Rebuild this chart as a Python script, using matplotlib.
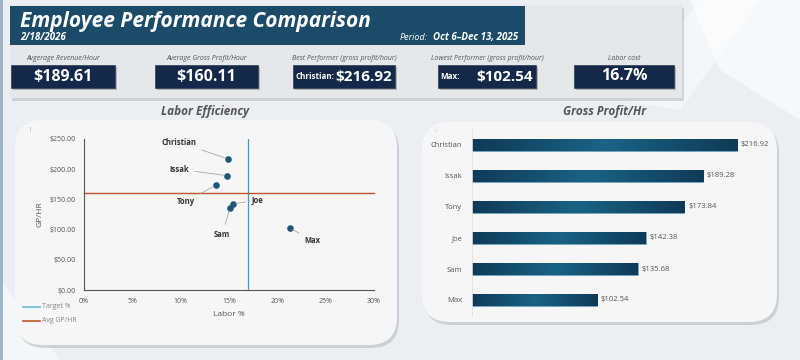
import matplotlib
matplotlib.use("Agg")
from matplotlib import pyplot as plt
from matplotlib.patches import FancyBboxPatch, Rectangle, Polygon
from matplotlib.colors import LinearSegmentedColormap
from matplotlib.ticker import FuncFormatter
import numpy as np

plt.rcParams['font.family'] = ['Open Sans', 'DejaVu Sans']

# data
names = ['Christian', 'Issak', 'Tony', 'Joe', 'Sam', 'Max']
gp_hr = [216.92, 189.28, 173.84, 142.38, 135.68, 102.54]
labor_pct = [14.9, 14.8, 13.7, 15.4, 15.1, 21.3]
target_pct = 17.0
avg_gp = 160.11

kpi_labels = ['Avgerage Revenue/Hour', 'Average Gross Profit/Hour',
              'Best Performer (gross profit/hour)', 'Lowest Performer (gross profit/hour)',
              'Labor cost']
kpi_prefix = ['', '', 'Christian:', 'Max:', '']
kpi_values = ['$189.61', '$160.11', '$216.92', '$102.54', '16.7%']

# label positions for the scatter (labor %, gp/hr, alignment)
label_pos = {
    'Christian': (11.6, 245, 'right'),
    'Issak': (10.9, 200, 'right'),
    'Tony': (11.5, 147, 'right'),
    'Joe': (17.3, 149, 'left'),
    'Sam': (14.3, 92, 'center'),
    'Max': (22.8, 82, 'left'),
}

W, H = 800, 360
fig = plt.figure(figsize=(8, 3.6), dpi=100)
fig.patch.set_facecolor('#eceef1')


def px_axes(x, y, w, h, **kw):
    return fig.add_axes([x / W, 1 - (y + h) / H, w / W, h / H], **kw)


bg = px_axes(0, 0, W, H)
bg.set_xlim(0, W)
bg.set_ylim(H, 0)
bg.axis('off')

# faint background shapes
bg.add_patch(Polygon([[690, 0], [800, 0], [800, 120], [720, 70]], color='white', alpha=0.6, lw=0))
bg.add_patch(Polygon([[620, 100], [700, 0], [760, 0], [680, 110]], color='white', alpha=0.5, lw=0))
bg.add_patch(Polygon([[0, 280], [60, 360], [0, 360]], color='white', alpha=0.5, lw=0))
bg.add_patch(Rectangle((0, 0), 3, H, color='#9fb4c8', lw=0))


def rbox(x, y, w, h, r, fc, shadow=True, z=1):
    if shadow:
        bg.add_patch(FancyBboxPatch((x + 2, y + 3), w, h, boxstyle=f"round,pad=0,rounding_size={r}",
                                    fc='#b8bcc2', ec='none', alpha=0.6, zorder=z))
    bg.add_patch(FancyBboxPatch((x, y), w, h, boxstyle=f"round,pad=0,rounding_size={r}",
                                fc=fc, ec='none', zorder=z + 0.1))


# header panel
rbox(10, 5, 672, 93, 0.1, '#e6e7e9')
bg.add_patch(Rectangle((10, 6), 515, 39, fc='#1b4b69', ec='none', zorder=2))
bg.text(20, 21, 'Employee Performance Comparison', color='white', fontsize=15,
        fontweight='bold', style='italic', va='center', zorder=3)
bg.text(20, 38, '2/18/2026', color='white', fontsize=7, fontweight='bold',
        style='italic', va='center', zorder=3)
bg.text(428, 37.5, 'Period:', color='white', fontsize=6.5, style='italic',
        va='center', ha='right', zorder=3)
bg.text(433, 37.5, 'Oct 6\u2013Dec 13, 2025', color='white', fontsize=7, fontweight='bold',
        style='italic', va='center', zorder=3)

box_x = [11, 155, 293, 438, 574]
box_w = [104, 103, 102, 98, 100]
for i in range(5):
    x, w = box_x[i], box_w[i]
    bg.text(x + w / 2, 59, kpi_labels[i], color='#555555', fontsize=5, style='italic',
            ha='center', va='center', zorder=3)
    bg.add_patch(Rectangle((x + 2, 67), w, 23, fc='#8d9196', ec='none', alpha=0.6, zorder=2))
    bg.add_patch(Rectangle((x, 65), w, 23, fc='#14284a', ec='#3b4a60', lw=0.6, zorder=2.1))
    if kpi_prefix[i]:
        bg.text(x + 2, 76.5, kpi_prefix[i], color='white', fontsize=5.8, fontweight='bold',
                va='center', ha='left', zorder=3)
        bg.text(x + w - 3, 76.5, kpi_values[i], color='white', fontsize=11, fontweight='bold',
                va='center', ha='right', zorder=3)
    else:
        bg.text(x + w / 2, 76.5, kpi_values[i], color='white', fontsize=11.5, fontweight='bold',
                va='center', ha='center', zorder=3)

# chart panels
rbox(15, 120, 382, 225, 28, '#f6f6f6')
rbox(422, 122, 355, 200, 28, '#f6f6f6')
bg.text(205, 112, 'Labor Efficiency', color='#555555', fontsize=8.5, fontweight='bold',
        style='italic', ha='center', va='center')
bg.text(605, 112, 'Gross Profit/Hr', color='#555555', fontsize=8.5, fontweight='bold',
        style='italic', ha='center', va='center')
bg.text(27, 131, '1', color='#bbbbbb', fontsize=5.5, va='center', zorder=3)
bg.text(434, 131, '2', color='#dddddd', fontsize=5.5, va='center', zorder=3)

# legend for the scatter
bg.plot([23, 40], [307, 307], color='#7cc4e8', lw=1.4, zorder=3)
bg.text(42, 307, 'Target %', color='#888888', fontsize=5, va='center', zorder=3)
bg.plot([23, 40], [321, 321], color='#c0552a', lw=1.2, zorder=3)
bg.text(42, 321, 'Avg GP/HR', color='#888888', fontsize=5, va='center', zorder=3)

# scatter
ax = px_axes(84, 139, 290, 151)
ax.set_facecolor('none')
ax.set_xlim(0, 30)
ax.set_ylim(0, 250)
ax.axvline(target_pct, color='#3d9bd0', lw=0.9, zorder=1)
ax.axhline(avg_gp, color='#c0552a', lw=1.0, zorder=1, clip_on=False)
ax.scatter(labor_pct, gp_hr, s=14, color='#1e5675', zorder=3)
for n, x, y in zip(names, labor_pct, gp_hr):
    tx, ty, ha = label_pos[n]
    ax.annotate(n, (x, y), xytext=(tx, ty), ha=ha, va='center', fontsize=5.5,
                fontweight='bold', color='#333333',
                arrowprops=dict(arrowstyle='-', color='#999999', lw=0.5, shrinkA=2, shrinkB=2))
ax.set_xticks(range(0, 31, 5))
ax.set_yticks(range(0, 251, 50))
ax.xaxis.set_major_formatter(FuncFormatter(lambda v, p: f'{v:.0f}%'))
ax.yaxis.set_major_formatter(FuncFormatter(lambda v, p: f'${v:.2f}'))
ax.tick_params(length=0, labelsize=5, colors='#555555', pad=6)
for s in ['top', 'right']:
    ax.spines[s].set_visible(False)
for s in ['left', 'bottom']:
    ax.spines[s].set_color('#555555')
    ax.spines[s].set_linewidth(0.8)
ax.set_xlabel('Labor %', fontsize=6, color='#555555', labelpad=4)
ax.set_ylabel('GP/HR', fontsize=6, color='#555555', labelpad=4)

# bars
bx = px_axes(472, 129.5, 298, 186)
bx.set_facecolor('none')
ypos = np.arange(len(names))
bx.set_xlim(0, 298 / 1.222)
bx.set_ylim(len(names) - 0.5, -0.5)
cmap = LinearSegmentedColormap.from_list('bar', ['#0f3a57', '#1a6385', '#0f3a57'])
grad = np.linspace(0, 1, 256).reshape(1, -1)
bars = bx.barh(ypos, gp_hr, height=0.36, color='#15506f', edgecolor='#6aa7c7', lw=0.4, zorder=2)
for b, v, y in zip(bars, gp_hr, ypos):
    im = bx.imshow(grad, cmap=cmap, aspect='auto', extent=(0, v, y + 0.18, y - 0.18), zorder=2.5)
    im.set_clip_path(b)
    bx.text(v + 3, y, f'${v:.2f}', fontsize=5.5, color='#555555', va='center')
bx.set_yticks(ypos)
bx.set_yticklabels(names)
bx.set_xticks([])
bx.tick_params(length=0, labelsize=5.5, colors='#555555', pad=7)
for s in ['top', 'right', 'bottom']:
    bx.spines[s].set_visible(False)
bx.spines['left'].set_color('#e2e2e2')
bx.spines['left'].set_linewidth(0.6)

fig.savefig('out.png', dpi=100, facecolor=fig.get_facecolor())
